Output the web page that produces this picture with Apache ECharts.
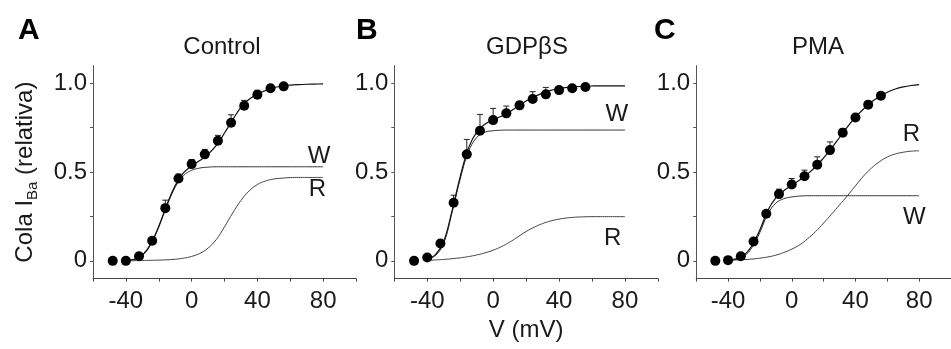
<!DOCTYPE html>
<html>
<head>
<meta charset="utf-8">
<script src="https://cdn.jsdelivr.net/npm/echarts@6/dist/echarts.min.js"></script>
<style>
html,body{margin:0;padding:0;background:#fff;}
#c{width:951px;height:349px;}
</style>
</head>
<body>
<div id="c"></div>
<script>
// ---- data ----
const voltages = [-48, -40, -32, -24, -16, -8, 0, 8, 16, 24, 32, 40, 48, 56];

const controlMean = [0, 0, 0.026, 0.113, 0.297, 0.464, 0.545, 0.60, 0.677, 0.778, 0.874, 0.936, 0.972, 0.983];
const controlSem  = [0, 0, 0.01, 0.012, 0.045, 0.025, 0.026, 0.028, 0.03, 0.045, 0.03, 0.025, 0.01, 0.01];
const gdpMean = [0, 0.019, 0.098, 0.327, 0.60, 0.733, 0.793, 0.831, 0.876, 0.912, 0.938, 0.962, 0.972, 0.979];
const gdpSem  = [0, 0.01, 0.015, 0.043, 0.084, 0.092, 0.066, 0.041, 0.021, 0.041, 0.039, 0.015, 0.01, 0.01];
const pmaMean = [0, 0.004, 0.026, 0.109, 0.265, 0.376, 0.43, 0.477, 0.541, 0.624, 0.722, 0.808, 0.88, 0.93];
const pmaSem  = [0, 0.005, 0.01, 0.01, 0.015, 0.028, 0.034, 0.034, 0.045, 0.046, 0.024, 0.015, 0.01, 0.01];

// fitted curves
const curveV = [-40, -35, -30, -25, -20, -15, -10, -5, 0, 5, 10, 15, 20, 25, 30, 35, 40, 45, 50, 55, 60, 65, 70, 75, 80];

const controlTotal = [0.002, 0.009, 0.032, 0.093, 0.195, 0.318, 0.425, 0.495, 0.535, 0.565, 0.60, 0.65, 0.72, 0.795, 0.865, 0.91, 0.94, 0.96, 0.975, 0.985, 0.99, 0.993, 0.995, 0.996, 0.997];
const controlW     = [0.002, 0.008, 0.03, 0.09, 0.19, 0.31, 0.415, 0.48, 0.51, 0.523, 0.528, 0.53, 0.53, 0.53, 0.53, 0.53, 0.53, 0.53, 0.53, 0.53, 0.53, 0.53, 0.53, 0.53, 0.53];
const controlR     = [0, 0.001, 0.002, 0.003, 0.004, 0.006, 0.009, 0.015, 0.025, 0.042, 0.072, 0.12, 0.192, 0.27, 0.34, 0.394, 0.43, 0.45, 0.461, 0.466, 0.469, 0.47, 0.47, 0.47, 0.47];

const gdpTotal = [0.013, 0.035, 0.11, 0.28, 0.475, 0.635, 0.725, 0.77, 0.795, 0.815, 0.84, 0.87, 0.90, 0.925, 0.945, 0.96, 0.97, 0.977, 0.981, 0.983, 0.985, 0.986, 0.986, 0.986, 0.986];
const gdpW     = [0.01, 0.03, 0.10, 0.27, 0.46, 0.615, 0.695, 0.725, 0.733, 0.736, 0.737, 0.737, 0.737, 0.737, 0.737, 0.737, 0.737, 0.737, 0.737, 0.737, 0.737, 0.737, 0.737, 0.737, 0.737];
const gdpR     = [0.003, 0.005, 0.008, 0.012, 0.017, 0.024, 0.033, 0.045, 0.06, 0.08, 0.105, 0.135, 0.165, 0.19, 0.21, 0.225, 0.235, 0.242, 0.246, 0.248, 0.249, 0.249, 0.249, 0.249, 0.249];

const pmaTotal = [0.004, 0.012, 0.032, 0.085, 0.175, 0.285, 0.355, 0.395, 0.425, 0.455, 0.49, 0.53, 0.58, 0.635, 0.695, 0.755, 0.81, 0.855, 0.895, 0.925, 0.95, 0.968, 0.98, 0.988, 0.993];
const pmaW     = [0.002, 0.008, 0.025, 0.075, 0.16, 0.265, 0.325, 0.35, 0.36, 0.365, 0.367, 0.367, 0.367, 0.367, 0.367, 0.367, 0.367, 0.367, 0.367, 0.367, 0.367, 0.367, 0.367, 0.367, 0.367];
const pmaR     = [0.003, 0.005, 0.007, 0.01, 0.015, 0.022, 0.032, 0.047, 0.066, 0.09, 0.125, 0.165, 0.213, 0.263, 0.315, 0.367, 0.423, 0.477, 0.522, 0.558, 0.585, 0.602, 0.612, 0.618, 0.62];

const panelTitles = ['Control', 'GDP\u03B2S', 'PMA'];
const panelLetters = ['A', 'B', 'C'];
const xTickValues = [-60, -40, -20, 0, 20, 40, 60, 80, 100];
const xTickLabelValues = [-40, 0, 40, 80];
const yTickValues = [0, 0.25, 0.5, 0.75, 1];
const yTickLabelValues = [0, 0.5, 1];
const yTickLabelTexts = ['0', '0.5', '1.0'];
const curveNames = ['W', 'R'];

// ---- layout / style ----
const FONT = '"Liberation Sans", Arial, sans-serif';
const TXT = '#1a1a1a';
const grids = [
  {left: 93, top: 65.6, width: 263, height: 213},
  {left: 394.3, top: 65.6, width: 263.6, height: 213},
  {left: 696.2, top: 65.6, width: 262.7, height: 213}
];
const titleCenters = [217, 522, 813];
const letterLefts = [13, 351, 649];
// label anchor points (data coords) for W / R in each panel
const labelSpots = [
  [[77.5, 0.59], [76.5, 0.40]],
  [[75, 0.824], [72.5, 0.125]],
  [[77, 0.246], [75.2, 0.711]]
];

const panels = [
  {mean: controlMean, sem: controlSem, total: controlTotal, w: controlW, r: controlR},
  {mean: gdpMean, sem: gdpSem, total: gdpTotal, w: gdpW, r: gdpR},
  {mean: pmaMean, sem: pmaSem, total: pmaTotal, w: pmaW, r: pmaR}
];

const xAxes = [], yAxes = [], series = [], titles = [];
panels.forEach((p, i) => {
  xAxes.push({
    type: 'value', gridIndex: i, min: -60, max: 100,
    axisLine: {onZero: false, lineStyle: {color: '#444', width: 1}},
    axisTick: {customValues: xTickValues, length: 3, lineStyle: {color: '#444'}},
    axisLabel: {customValues: xTickLabelValues, margin: 11, fontSize: 24, color: TXT, fontFamily: FONT},
    splitLine: {show: false},
    name: i === 1 ? 'V (mV)' : '',
    nameLocation: 'middle', nameGap: 40,
    nameTextStyle: {fontSize: 24, color: TXT, fontFamily: FONT}
  });
  yAxes.push({
    type: 'value', gridIndex: i, min: -0.1, max: 1.1,
    axisLine: {show: true, onZero: false, lineStyle: {color: '#555', width: 1}},
    axisTick: {show: true, customValues: yTickValues, length: 3, lineStyle: {color: '#555'}},
    axisLabel: {
      customValues: yTickLabelValues, margin: 6, fontSize: 24, color: TXT, fontFamily: FONT,
      formatter: v => { const k = yTickLabelValues.indexOf(v); return k >= 0 ? yTickLabelTexts[k] : ''; }
    },
    splitLine: {show: false},
    name: i === 0 ? 'Cola I{sub|Ba} (relativa)' : '',
    nameLocation: 'middle', nameGap: 53, nameRotate: 90,
    nameTextStyle: {
      fontSize: 24, color: TXT, fontFamily: FONT,
      rich: {sub: {fontSize: 15, color: TXT, fontFamily: FONT, padding: [14, 0, 0, 0]}}
    }
  });
  titles.push({
    text: panelTitles[i], left: titleCenters[i], top: 30, textAlign: 'center',
    textStyle: {fontSize: 24, fontWeight: 'normal', color: TXT, fontFamily: FONT}
  });
  titles.push({
    text: panelLetters[i], left: letterLefts[i], top: 11,
    textStyle: {fontSize: 30, fontWeight: 'bold', color: '#000', fontFamily: FONT}
  });

  const line = (arr, color, width, z) => ({
    type: 'line', xAxisIndex: i, yAxisIndex: i, z: z,
    data: curveV.map((v, k) => [v, arr[k]]),
    showSymbol: false, symbol: 'none', smooth: 0.4,
    lineStyle: {color: color, width: width}, silent: true, animation: false
  });
  series.push(line(p.r, '#444', 1, 2));
  series.push(line(p.w, '#333', 1, 2));
  series.push(line(p.total, '#111', 1.2, 3));

  series.push({
    type: 'custom', xAxisIndex: i, yAxisIndex: i, z: 4, animation: false,
    data: voltages.map((v, k) => [v, p.mean[k], p.sem[k]]),
    encode: {x: 0, y: 1},
    renderItem: (params, api) => {
      const x = api.value(0), m = api.value(1), e = api.value(2);
      const a = api.coord([x, m]), b = api.coord([x, m + e]);
      return {type: 'group', children: [
        {type: 'line', shape: {x1: a[0], y1: a[1], x2: b[0], y2: b[1]}, style: {stroke: '#222', lineWidth: 1}},
        {type: 'line', shape: {x1: b[0] - 3, y1: b[1], x2: b[0] + 3, y2: b[1]}, style: {stroke: '#222', lineWidth: 1}}
      ]};
    }
  });
  series.push({
    type: 'scatter', xAxisIndex: i, yAxisIndex: i, z: 5, animation: false,
    data: voltages.map((v, k) => [v, p.mean[k]]),
    symbol: 'circle', symbolSize: 10, itemStyle: {color: '#000', opacity: 1}
  });
  series.push({
    type: 'scatter', xAxisIndex: i, yAxisIndex: i, z: 6, animation: false, silent: true,
    symbolSize: 0, itemStyle: {opacity: 1},
    data: curveNames.map((n, k) => ({name: n, value: labelSpots[i][k]})),
    label: {show: true, position: 'inside', formatter: '{b}', fontSize: 24, color: TXT, opacity: 1, fontFamily: FONT}
  });
});

const chart = echarts.init(document.getElementById('c'), null, {renderer: 'canvas'});
chart.setOption({
  backgroundColor: '#fff',
  animation: false,
  title: titles,
  grid: grids,
  xAxis: xAxes,
  yAxis: yAxes,
  series: series
});
</script>
</body>
</html>
